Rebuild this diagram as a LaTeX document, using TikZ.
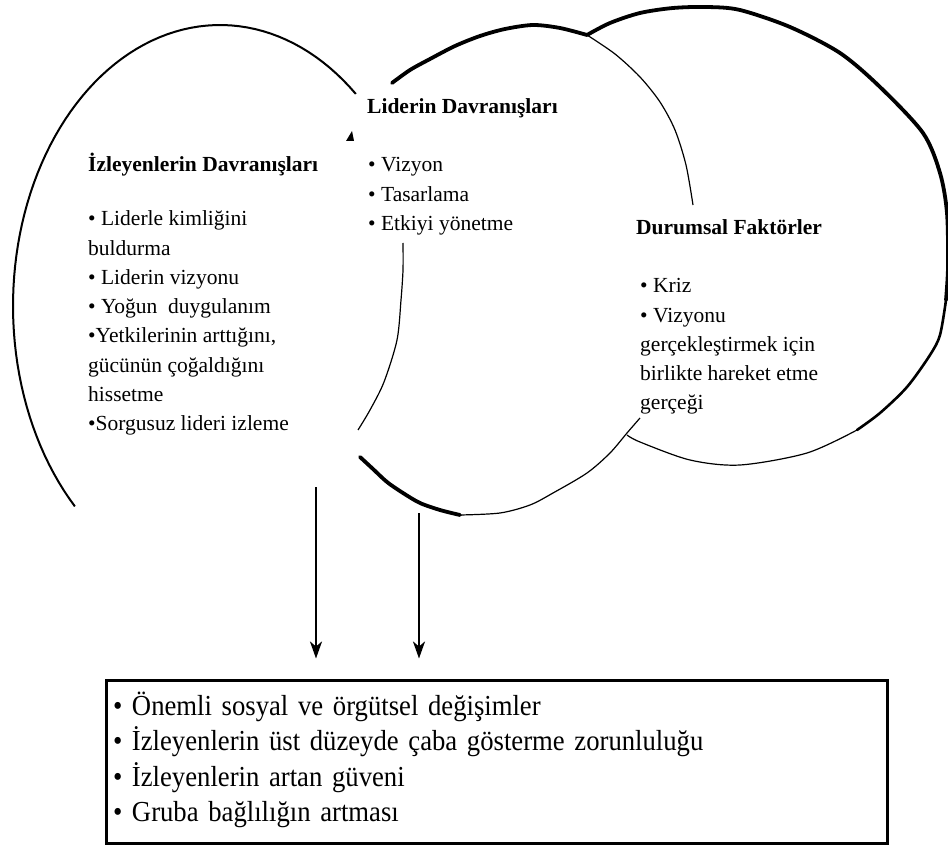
\documentclass[tikz,border=0pt]{standalone}
\usepackage{fontspec}
\setmainfont{Liberation Serif}
\newfontfamily\boxfont{Liberation Serif}[FakeStretch=0.92]
\usetikzlibrary{positioning, arrows.meta}

\tikzset{
  thinarc/.style={line width=1.2pt},
  leftarc/.style={line width=2pt},
  midarc/.style={line width=2.6pt, line cap=round},
  thickarc/.style={line width=3.8pt, line cap=round},
  arrowline/.style={line width=2.4pt, -{Stealth[length=17pt, width=12pt, inset=5pt]}, shorten >=20pt},
  headtext/.style={anchor=base west, inner sep=0pt, font=\fontsize{21.5}{29.3}\selectfont\bfseries},
  blocktext/.style={anchor=north west, inner sep=0pt, align=left, font=\fontsize{21.5}{29.3}\selectfont},
  outbox/.style={draw, line width=3pt, minimum width=781pt, minimum height=163pt, text width=767pt,
    inner xsep=7pt, inner ysep=0pt, align=left, font=\boxfont\fontsize{29}{35.3}\selectfont}
}

\begin{document}
\begin{tikzpicture}[x=1pt, y=-1pt]
  \useasboundingbox (0,0) rectangle (948,845);

  % left ellipse
  \draw[leftarc] plot[domain=49:225.5, samples=80] ({220+207*cos(\x)}, {306-281*sin(\x)});
  \fill (352,131) -- (354,141) -- (346,141) -- cycle;

  % middle ellipse
  \draw[thickarc] plot[smooth] coordinates {(392,83) (410,70) (430,59) (455,46) (480,36) (505,29) (533,25) (560,28) (587,35)};
  \draw[thinarc] plot[smooth] coordinates {(587,35) (615,54) (640,77) (660,102) (675,130) (686,165) (693,205)};
  \draw[thinarc] plot[smooth] coordinates {(403,243) (403,270) (401,300) (397,340) (384,382) (370,410) (358,430)};
  \draw[thickarc] plot[smooth] coordinates {(360,457) (373,469) (387,482) (403,493) (420,503) (440,510) (460,515)};
  \draw[thinarc] plot[smooth] coordinates {(460,515) (500,513) (530,505) (553,493) (587,473) (610,453) (627,433) (640,418)};

  % right ellipse
  \draw[thickarc] plot[smooth] coordinates {(587,35) (610,23) (640,13) (673,8) (707,7) (740,10) (790,27) (840,53) (880,87) (923,133) (940,173) (947,213) (948,267) (946,300)};
  \draw[midarc] plot[smooth] coordinates {(946,300) (940,335) (930,355) (907,387) (880,413) (857,430)};
  \draw[thinarc] plot[smooth] coordinates {(857,430) (807,453) (740,465) (690,460) (640,442) (627,435)};

  % texts
  \node[headtext] (izhead) at (88,172) {İzleyenlerin Davranışları};
  \node[blocktext] (izlist) at (88,205) {\strut• Liderle kimliğini\\buldurma\\• Liderin vizyonu\\• Yoğun\ \ duygulanım\\•Yetkilerinin arttığını,\\gücünün çoğaldığını\\hissetme\\•Sorgusuz lideri izleme};

  \node[headtext] (lidhead) at (367,114) {Liderin Davranışları};
  \node[blocktext] (lidlist) at (368,151) {\strut• Vizyon\\• Tasarlama\\• Etkiyi yönetme};

  \node[headtext] (durhead) at (636,235) {Durumsal Faktörler};
  \node[blocktext] (durlist) at (640,272) {\strut• Kriz\\• Vizyonu\\gerçekleştirmek için\\birlikte hareket etme\\gerçeği};

  % result box
  \node[outbox] (sonuc) at (496.5,761.5) {\strut• Önemli sosyal ve örgütsel değişimler\\• İzleyenlerin üst düzeyde çaba gösterme zorunluluğu\\• İzleyenlerin artan güveni\\• Gruba bağlılığın artması\strut};

  \coordinate (izstart) at (316,487);
  \coordinate (lidstart) at (419,513);
  \draw[arrowline] (izstart) -- (izstart |- sonuc.north);
  \draw[arrowline] (lidstart) -- (lidstart |- sonuc.north);
\end{tikzpicture}
\end{document}
